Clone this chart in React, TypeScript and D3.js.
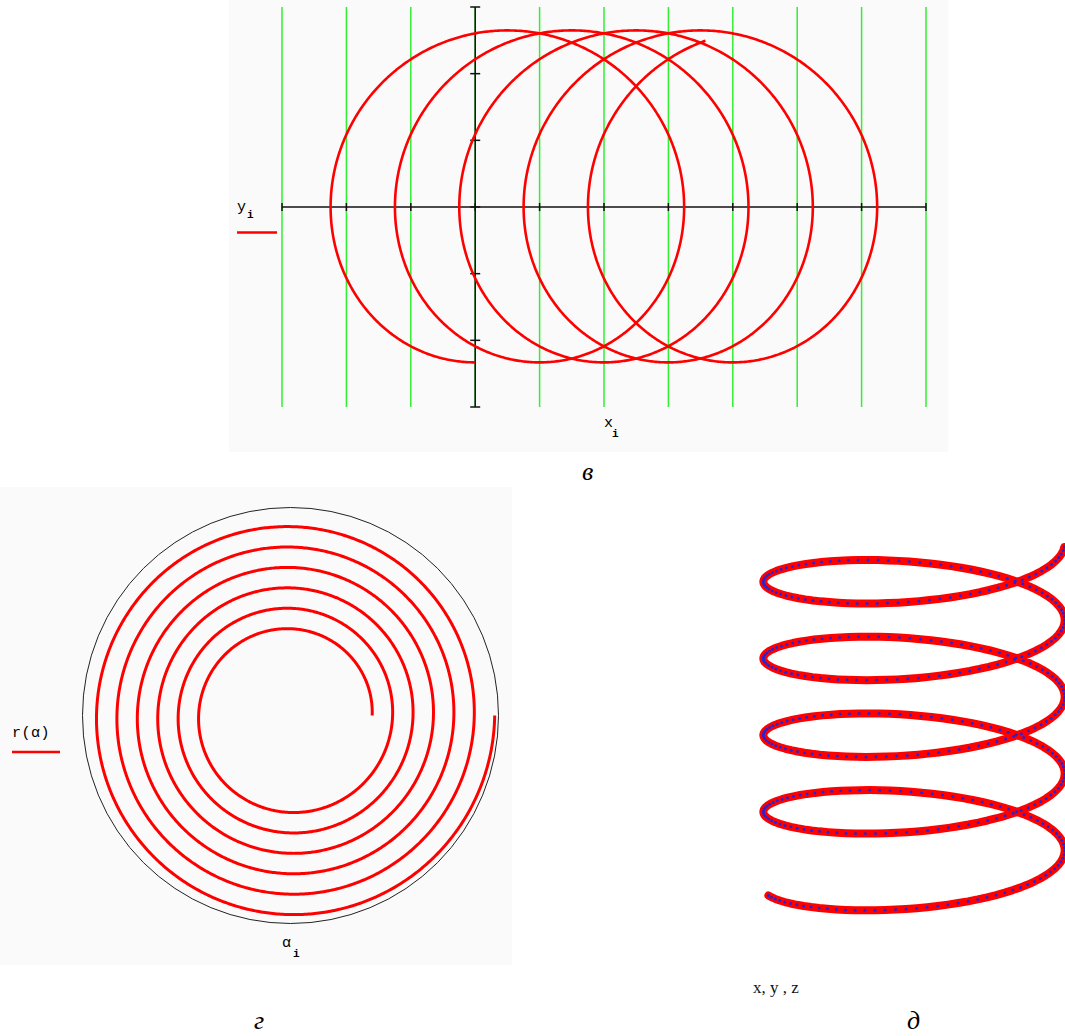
import React from 'react';
import * as d3 from 'd3';

// Panel в: prolate cycloid  x = r·t − d·sin t,  y = r − d·cos t  (grid units)
const cycloidRadius = [0.159];
const cycloidPen = [2.49];
const cycloidT = [0, 27.92];
const cycloidXTicks = [-3, -2, -1, 0, 1, 2, 3, 4, 5, 6, 7];
const cycloidYTicks = [-3, -2, -1, 0, 1, 2, 3];

// Panel г: Archimedean spiral r(α) = α on a polar plot
const spiralAlpha = [8 * Math.PI, 20 * Math.PI];
const spiralRMax = [64];

// Panel д: helix of unit radius, seen from slightly above
const helixTheta = [-1.31, 8 * Math.PI + 1.5];
const helixPitch = [0.527];
const helixElevationDeg = [15];
const helixSamples = [400];

const monoFont = '"Liberation Mono", "Courier New", monospace';
const serifFont = '"Liberation Serif", "DejaVu Serif", serif';

function sampleRange(a: number, b: number, step: number): number[] {
  const out = d3.range(a, b, step);
  out.push(b);
  return out;
}

export default function App() {
  const W = 1065;
  const H = 1036;

  // ---- в ----
  const xC = d3.scaleLinear().domain([-3, 7]).range([282, 926]);
  const yC = d3.scaleLinear().domain([-3, 3]).range([407, 7]);
  const r = cycloidRadius[0];
  const pen = cycloidPen[0];
  const cycPts = sampleRange(cycloidT[0], cycloidT[1], 0.01).map(
    (t) => [r * t - pen * Math.sin(t), r - pen * Math.cos(t)] as [number, number]
  );
  const cycLine = d3
    .line<[number, number]>()
    .x((p) => xC(p[0]))
    .y((p) => yC(p[1]));

  // ---- г ----
  const spCx = 290.5;
  const spCy = 715.5;
  const rS = d3.scaleLinear().domain([0, spiralRMax[0]]).range([0, 208]);
  const spAlphas = sampleRange(spiralAlpha[0], spiralAlpha[1], 0.01);
  const spLine = d3
    .lineRadial<number>()
    .angle((a) => Math.PI / 2 - a)
    .radius((a) => rS(a));

  // ---- д ----
  const el = (helixElevationDeg[0] * Math.PI) / 180;
  const xH = d3.scaleLinear().domain([-1, 1]).range([763.3, 1064.7]);
  const yH = d3.scaleLinear().domain([-1, 1]).range([869.4 + 150.7, 869.4 - 150.7]);
  const n = helixSamples[0];
  const helixPts = d3.range(n + 1).map((i) => {
    const th = helixTheta[0] + ((helixTheta[1] - helixTheta[0]) * i) / n;
    const across = Math.sin(th);
    const depth = Math.cos(th);
    const z = (th / (2 * Math.PI)) * helixPitch[0];
    const up = z * Math.cos(el) - depth * Math.sin(el);
    return [xH(across), yH(up)] as [number, number];
  });
  const helixLine = d3.line<[number, number]>();

  const gridGreen = '#33ee33';
  const axisCol = '#111';

  return (
    <svg
      width={W}
      height={H}
      style={{ position: 'absolute', left: 0, top: 0, background: '#fff' }}
    >
      {/* panel backgrounds */}
      <rect x={229} y={0} width={719} height={452} fill="#fafafa" />
      <rect x={0} y={487} width={512} height={478} fill="#fafafa" />

      {/* в: grid */}
      {cycloidXTicks.map((v) => (
        <line
          key={'g' + v}
          x1={xC(v)}
          x2={xC(v)}
          y1={yC(-3)}
          y2={yC(3)}
          stroke={gridGreen}
          strokeWidth={1.5}
        />
      ))}
      {/* в: axes */}
      <line x1={xC(-3)} x2={xC(7)} y1={yC(0)} y2={yC(0)} stroke={axisCol} strokeWidth={1.5} />
      <line x1={xC(0)} x2={xC(0)} y1={yC(-3)} y2={yC(3)} stroke={axisCol} strokeWidth={1.5} />
      {cycloidXTicks.map((v) => (
        <line
          key={'tx' + v}
          x1={xC(v)}
          x2={xC(v)}
          y1={yC(0) - 4}
          y2={yC(0) + 4}
          stroke={axisCol}
          strokeWidth={1.5}
        />
      ))}
      {cycloidYTicks.map((v) => (
        <line
          key={'ty' + v}
          x1={xC(0) - 5}
          x2={xC(0) + 5}
          y1={yC(v)}
          y2={yC(v)}
          stroke={axisCol}
          strokeWidth={1.5}
        />
      ))}
      <path d={cycLine(cycPts) || ''} fill="none" stroke="#ff0000" strokeWidth={2.6} strokeLinejoin="round" />
      <text x={237} y={211} fontFamily={monoFont} fontSize={15} fill="#000">y</text>
      <text x={247} y={218} fontFamily={monoFont} fontSize={11} fontWeight="bold" fill="#000">i</text>
      <line x1={237} x2={277} y1={232.5} y2={232.5} stroke="#ff0000" strokeWidth={2.5} />
      <text x={604} y={427} fontFamily={monoFont} fontSize={15} fill="#000">x</text>
      <text x={612} y={437} fontFamily={monoFont} fontSize={11} fontWeight="bold" fill="#000">i</text>
      <text x={582} y={480} fontFamily={serifFont} fontStyle="italic" fontSize={26} fill="#000">в</text>

      {/* г: polar spiral */}
      <g transform={`translate(${spCx},${spCy})`}>
        <circle r={rS(spiralRMax[0])} fill="none" stroke="#222" strokeWidth={1} />
        <path d={spLine(spAlphas) || ''} fill="none" stroke="#ff0000" strokeWidth={3} strokeLinejoin="round" />
      </g>
      <text x={12} y={737} fontFamily={monoFont} fontSize={15} letterSpacing={0.5} fill="#000">r(α)</text>
      <line x1={12} x2={60} y1={752} y2={752} stroke="#ff0000" strokeWidth={2.5} />
      <text x={282} y={947} fontFamily={monoFont} fontSize={15} fill="#000">α</text>
      <text x={293} y={957} fontFamily={monoFont} fontSize={11} fontWeight="bold" fill="#000">i</text>
      <text x={254} y={1029} fontFamily={serifFont} fontStyle="italic" fontSize={26} fill="#000">г</text>

      {/* д: helix */}
      <path
        d={helixLine(helixPts) || ''}
        fill="none"
        stroke="#ff0000"
        strokeWidth={8}
        strokeLinejoin="round"
        strokeLinecap="round"
      />
      {helixPts.map((p, i) => (
        <circle key={'h' + i} cx={p[0]} cy={p[1]} r={1.5} fill="#2424d8" />
      ))}
      <text x={753} y={993} fontFamily={serifFont} fontSize={17} fill="#111">x, y , z</text>
      <text x={907} y={1029} fontFamily={serifFont} fontStyle="italic" fontSize={26} fill="#000">д</text>
    </svg>
  );
}
